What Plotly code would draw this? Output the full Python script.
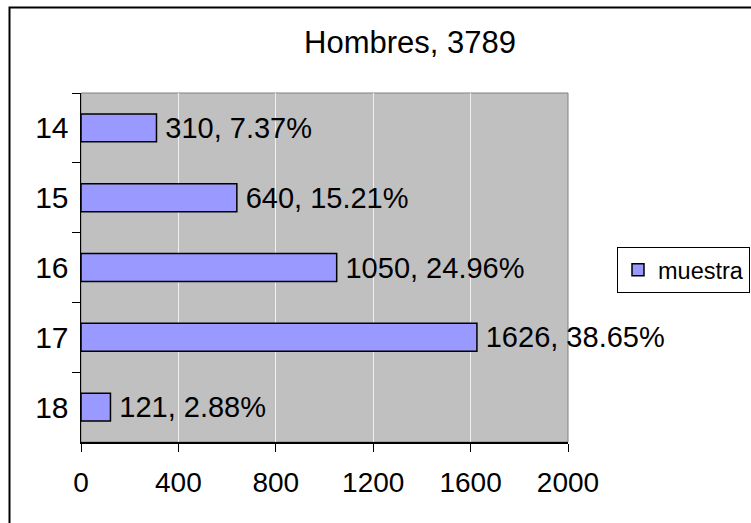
import plotly.graph_objects as go

categories = ["14", "15", "16", "17", "18"]
values = [310, 640, 1050, 1626, 121]
percents = ["7.37%", "15.21%", "24.96%", "38.65%", "2.88%"]
x_ticks = [0, 400, 800, 1200, 1600, 2000]
title_text = "Hombres, 3789"
series_name = "muestra"

FONT = "Liberation Sans, Arial, sans-serif"
W, H = 751, 523
L, R, T, B = 81, 183, 93, 81
PW, PH = W - L - R, H - T - B

def px_x(p):
    return (p - L) / PW

def px_y(p):
    return (H - B - p) / PH

fig = go.Figure()
fig.add_trace(go.Bar(
    x=values,
    y=categories,
    orientation="h",
    name=series_name,
    customdata=percents,
    texttemplate="\u2009%{x}, %{customdata}",
    textposition="outside",
    constraintext="none",
    cliponaxis=False,
    textfont=dict(family=FONT, size=29, color="black"),
    marker=dict(color="#9999FF", line=dict(color="black", width=1.5)),
    hoverinfo="skip",
))

fig.update_layout(
    width=W, height=H,
    margin=dict(l=L, r=R, t=T, b=B, pad=0, autoexpand=False),
    paper_bgcolor="white",
    plot_bgcolor="#C0C0C0",
    bargap=0.6,
    font=dict(family=FONT, color="black"),
    title=dict(
        text=title_text,
        x=410 / W, xref="container", xanchor="center",
        y=1 - 42 / H, yref="container", yanchor="middle",
        font=dict(family=FONT, size=31, color="black"),
    ),
    showlegend=True,
    legend=dict(
        x=px_x(617), xanchor="left",
        y=px_y(270), yanchor="middle",
        bordercolor="black", borderwidth=1,
        bgcolor="white",
        font=dict(family=FONT, size=23.5, color="black"),
    ),
    xaxis=dict(
        range=[0, 2000],
        tickvals=x_ticks,
        ticktext=[str(v) for v in x_ticks],
        ticks="outside", ticklen=8, tickcolor="black", tickwidth=1,
        showline=True, linecolor="black", linewidth=1.5,
        showgrid=True, gridcolor="#F0F0F0", gridwidth=1,
        zeroline=False,
        automargin=False,
        tickfont=dict(family=FONT, size=28, color="black"),
        ticklabelstandoff=7,
        fixedrange=True,
    ),
    yaxis=dict(
        type="category",
        categoryorder="array",
        categoryarray=categories,
        autorange="reversed",
        tickson="boundaries",
        ticks="outside", ticklen=8, tickcolor="black", tickwidth=1,
        showline=True, linecolor="black", linewidth=1.5,
        showgrid=False,
        automargin=False,
        tickfont=dict(family=FONT, size=30, color="black"),
        ticklabelstandoff=5,
        fixedrange=True,
    ),
    shapes=[
        dict(type="rect", xref="paper", yref="paper",
             x0=0, x1=1, y0=0, y1=1,
             line=dict(color="#808080", width=1), layer="below"),
        dict(type="rect", xref="paper", yref="paper",
             x0=px_x(9.5), x1=px_x(780), y0=px_y(7.5), y1=px_y(560),
             line=dict(color="black", width=2), layer="above"),
    ],
)

fig.write_html(
    "out.html",
    config={"displayModeBar": False, "staticPlot": True},
    post_script="document.body.style.margin='0';document.body.style.overflow='hidden';",
)
